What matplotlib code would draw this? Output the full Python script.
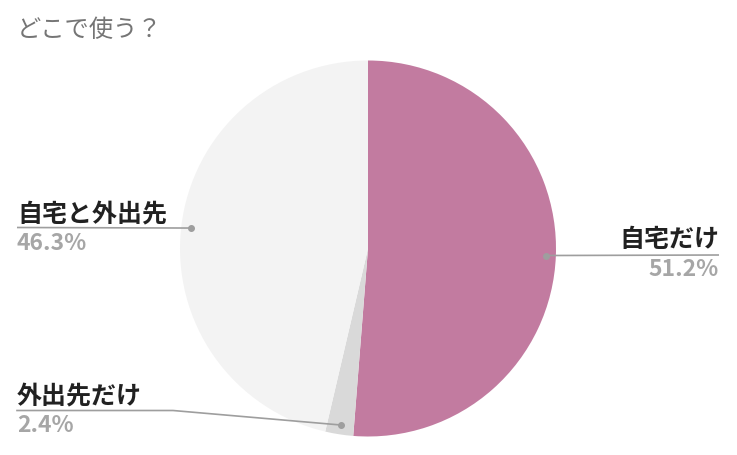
import numpy as np
import matplotlib
matplotlib.use("Agg")
import matplotlib.pyplot as plt

plt.rcParams["font.family"] = ["Noto Sans CJK JP", "DejaVu Sans"]

# --- data ---
title = "どこで使う？"
labels = ["自宅だけ", "外出先だけ", "自宅と外出先"]
values = [51.2, 2.4, 46.3]
colors = ["#C27BA0", "#D9D9D9", "#F3F3F3"]

W, H = 737, 455
cx, cy, R = 368, 248.5, 188


def Y(y):
    return H - y


fig = plt.figure(figsize=(W / 100, H / 100), dpi=100)
ax = fig.add_axes([0, 0, 1, 1])
ax.pie(values, colors=colors, startangle=90, counterclock=False,
       center=(cx, Y(cy)), radius=R, wedgeprops=dict(linewidth=0))
ax.set_xlim(0, W)
ax.set_ylim(0, H)
ax.set_aspect("equal")
ax.axis("off")

# anchor dot on each wedge, at the middle angle
total = sum(values)
cum = np.cumsum([0] + values[:-1])
mids = [np.deg2rad(90 - (c + v / 2) / total * 360) for c, v in zip(cum, values)]
dots = [(cx + 0.95 * R * np.cos(a), Y(cy) + 0.95 * R * np.sin(a)) for a in mids]

# label layout: (text x, ha, name baseline, line y, pct baseline, line knee x)
layout = {
    "自宅だけ": (719, "right", 247, 255, 276.5, None),
    "外出先だけ": (17, "left", 403, 410.5, 432.5, 173),
    "自宅と外出先": (17, "left", 221, 227.5, 249.5, None),
}

line_c = "#9E9E9E"
for lab, val, (dx, dy) in zip(labels, values, dots):
    tx, ha, yb, yl, yp, knee = layout[lab]
    if knee is None:
        ax.plot([tx, dx], [Y(yl), dy], color=line_c, lw=1.2, solid_capstyle="butt")
    else:
        ax.plot([tx, knee, dx], [Y(yl), Y(yl), dy], color=line_c, lw=1.2)
    ax.plot(dx, dy, "o", color=line_c, ms=4)
    ax.text(tx, Y(yb), lab, ha=ha, va="baseline", fontsize=18,
            fontweight="bold", color="#212121")
    ax.text(tx, Y(yp), f"{val}%", ha=ha, va="baseline", fontsize=16.5,
            fontweight="bold", color="#A6A6A6")

fig.text(17 / W, 1 - 30 / H, title, ha="left", va="center", fontsize=17.5,
         color="#757575")

fig.savefig("out.png", dpi=100)
